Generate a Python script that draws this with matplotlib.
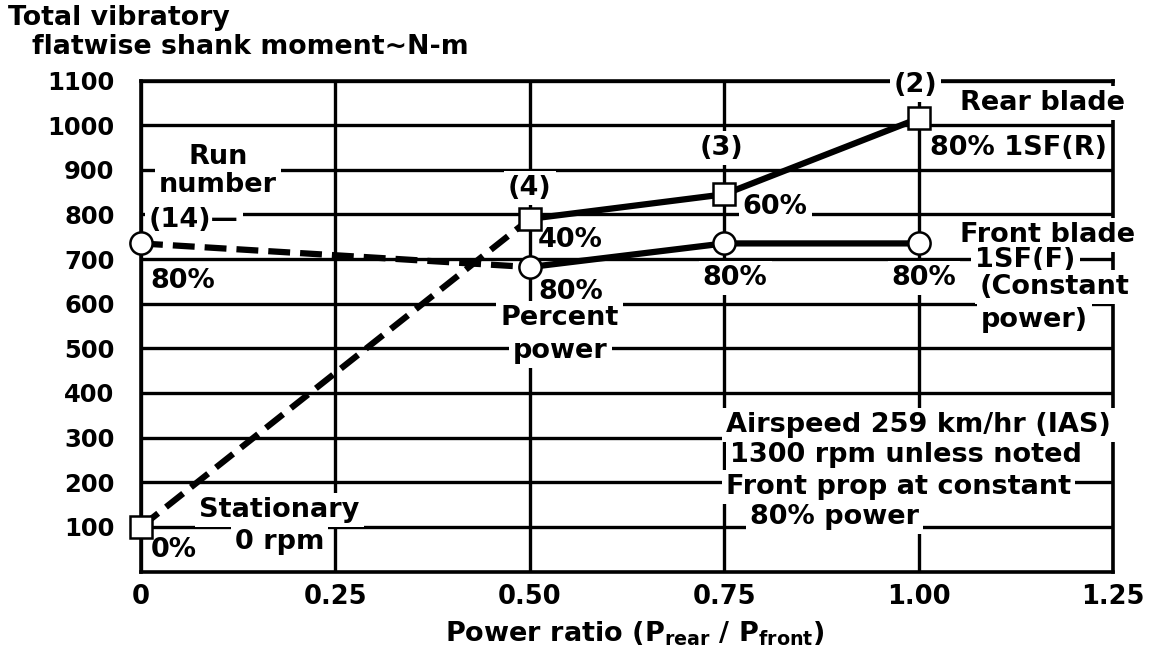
import matplotlib
matplotlib.use('Agg')
import matplotlib.pyplot as plt

# Data
power_ratio = [0, 0.5, 0.75, 1.0]
rear_moment = [100, 790, 845, 1015]   # rear blade 1SF(R), squares
front_moment = [735, 682, 735, 735]   # front blade 1SF(F), circles

x_ticks = [0, 0.25, 0.5, 0.75, 1.0, 1.25]
x_tick_labels = ['0', '0.25', '0.50', '0.75', '1.00', '1.25']
y_ticks = [100, 200, 300, 400, 500, 600, 700, 800, 900, 1000, 1100]

plt.rcParams['font.family'] = 'DejaVu Sans'
plt.rcParams['font.weight'] = 'bold'
plt.rcParams['mathtext.fontset'] = 'dejavusans'
plt.rcParams['mathtext.default'] = 'bf'

fig = plt.figure(figsize=(11.52, 6.66), dpi=100)
ax = fig.add_axes([141 / 1152, 1 - 571.5 / 666, 972 / 1152, 491 / 666])

ax.set_xlim(0, 1.25)
ax.set_ylim(0, 1100)
ax.set_xticks(x_ticks)
ax.set_xticklabels(x_tick_labels)
ax.set_yticks(y_ticks)
ax.tick_params(axis='both', length=0)
ax.tick_params(axis='y', pad=19, labelsize=17.5)
ax.tick_params(axis='x', pad=9, labelsize=18.5)
for lab in ax.get_xticklabels() + ax.get_yticklabels():
    lab.set_fontweight('bold')

ax.set_axisbelow(True)
ax.grid(True, color='black', linewidth=2.4)
for sp in ax.spines.values():
    sp.set_linewidth(2.6)

# Lines: dashed from stationary / first point, solid afterwards
dash = (0, (3.5, 1.6))
ax.plot(power_ratio[:2], rear_moment[:2], color='black', lw=4.5, linestyle=dash,
        zorder=4, clip_on=False)
ax.plot(power_ratio[1:], rear_moment[1:], color='black', lw=4.5, zorder=4, clip_on=False)
ax.plot(power_ratio[:2], front_moment[:2], color='black', lw=4.5, linestyle=dash,
        zorder=4, clip_on=False)
ax.plot(power_ratio[1:], front_moment[1:], color='black', lw=4.5, zorder=4, clip_on=False)

ax.plot(power_ratio, rear_moment, 's', ms=16, mfc='white', mec='black', mew=1.8,
        zorder=5, clip_on=False)
ax.plot(power_ratio, front_moment, 'o', ms=16, mfc='white', mec='black', mew=1.8,
        zorder=5, clip_on=False)

box = dict(boxstyle='square,pad=0.15', fc='white', ec='none')


def note(x, y, s, ha='center', size=19.5):
    ax.text(x, y, s, ha=ha, va='center', fontsize=size, fontweight='bold',
            bbox=box, zorder=3)


# Annotations inside the plot
note(0.099, 928, 'Run')
note(0.099, 866, 'number')
note(0.068, 787, '(14)\u2014')
note(0.012, 650, '80%', ha='left')
note(0.013, 48, '0%', ha='left')
note(0.178, 138, 'Stationary')
note(0.178, 66, '0 rpm')

note(0.5, 859, '(4)')
note(0.51, 742, '40%', ha='left')
note(0.553, 626, '80%')
note(0.538, 568, 'Percent')
note(0.539, 494, 'power')

note(0.747, 948, '(3)')
note(0.774, 817, '60%', ha='left')
note(0.764, 657, '80%')

note(0.996, 1090, '(2)')
note(1.007, 657, '80%')
note(1.053, 1049, 'Rear blade', ha='left')
note(1.015, 948, '80% 1SF(R)', ha='left')
note(1.053, 754, 'Front blade', ha='left')
note(1.073, 698, '1SF(F)', ha='left')
note(1.078, 638, '(Constant', ha='left')
note(1.080, 563, 'power)', ha='left')

note(0.752, 328, 'Airspeed 259 km/hr (IAS)', ha='left')
note(0.757, 261, '1300 rpm unless noted', ha='left')
note(0.752, 190, 'Front prop at constant', ha='left')
note(0.783, 122, '80% power', ha='left')

# Axis titles
fig.text(8 / 1152, 1 - 25 / 666, 'Total vibratory', fontsize=19.3, fontweight='bold',
         va='baseline', ha='left')
fig.text(32 / 1152, 1 - 54 / 666, 'flatwise shank moment\u223cN-m', fontsize=19.3,
         fontweight='bold', va='baseline', ha='left')
fig.text(635 / 1152, 1 - 642 / 666, r'Power ratio (P$_{rear}$ / P$_{front}$)',
         fontsize=19.5, fontweight='bold', va='baseline', ha='center')

fig.savefig('out.png', dpi=100)
